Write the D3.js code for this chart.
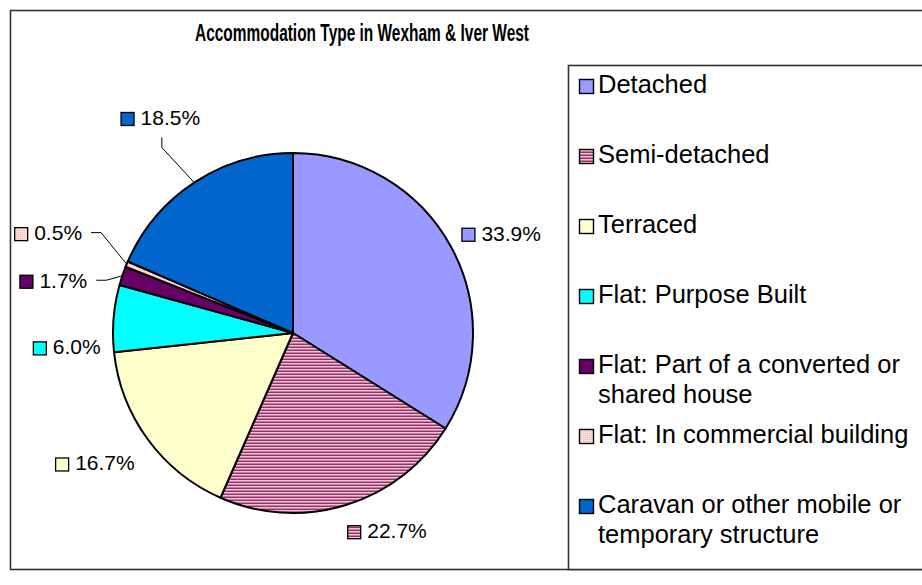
<!DOCTYPE html>
<html>
<head>
<meta charset="utf-8">
<script src="https://cdn.jsdelivr.net/npm/d3@7"></script>
<style>
  body { margin: 0; background: #fff; }
  svg { display: block; }
  text { font-family: Arial, "Liberation Sans", sans-serif; fill: #000; }
  text.title { font-family: "Liberation Sans Narrow", "Arial Narrow", Arial, sans-serif; }
</style>
</head>
<body>
<svg id="chart"></svg>
<script>
// ************************************************************************************************** //
// Data

var title = "Accommodation Type in Wexham & Iver West";
var categories = ["Detached", "Semi-detached", "Terraced", "Flat: Purpose Built",
  "Flat: Part of a converted or shared house", "Flat: In commercial building",
  "Caravan or other mobile or temporary structure"];
var legendLines = [["Detached"], ["Semi-detached"], ["Terraced"], ["Flat: Purpose Built"],
  ["Flat: Part of a converted or", "shared house"], ["Flat: In commercial building"],
  ["Caravan or other mobile or", "temporary structure"]];
var values = [33.9, 22.7, 16.7, 6.0, 1.7, 0.5, 18.5];

// ************************************************************************************************** //
// Layout / style

var W = 922, H = 585;
var cx = 293, cy = 333, radius = 180;
var fills = ["#9999FF", "url(#pat-semi)", "#FFFFCC", "#00FFFF", "#660066", "url(#pat-comm)", "#0066CC"];
// label box centres sit on an ellipse round the pie, with Excel's hand nudges on top
var labelRx = 238, labelRy = 210;
var labelNudge = [[0, 2], [24, -3], [-6, 6], [11, 31], [-14, 14], [-25, -20], [-2, -40]];
var hasLeader = [false, false, false, false, true, true, true];

var svg = d3.select('#chart').attr('width', W).attr('height', H);
var defs = svg.append('defs');

// narrow horizontal stripes for semi-detached
var p1 = defs.append('pattern').attr('id', 'pat-semi').attr('patternUnits', 'userSpaceOnUse').attr('width', 4).attr('height', 3);
p1.append('rect').attr('width', 4).attr('height', 3).attr('fill', '#F0C2D8');
p1.append('rect').attr('y', 1).attr('width', 4).attr('height', 1).attr('fill', '#C97AA2');
p1.append('rect').attr('y', 2).attr('width', 4).attr('height', 1).attr('fill', '#8E3664');

// fine dots for commercial building
var p2 = defs.append('pattern').attr('id', 'pat-comm').attr('patternUnits', 'userSpaceOnUse').attr('width', 2).attr('height', 2);
p2.append('rect').attr('width', 2).attr('height', 2).attr('fill', '#FFCCCC');
p2.append('rect').attr('width', 1).attr('height', 1).attr('fill', '#FFF0F0');

// ****************************************
// Frame + title

svg.append('rect').attr('x', 10.5).attr('y', 10.5).attr('width', 960).attr('height', 559)
  .attr('fill', '#fff').attr('stroke', '#333').attr('stroke-width', 1.6);

svg.append('text').attr('class', 'title').attr('x', 362).attr('y', 41).attr('text-anchor', 'middle')
  .attr('textLength', 334).attr('lengthAdjust', 'spacingAndGlyphs')
  .style('font-size', '23px').style('font-weight', 'bold').text(title);

// ****************************************
// Pie

var pie = d3.pie().sort(null).value(d => d);
var arcs = pie(values);
var arc = d3.arc().innerRadius(0).outerRadius(radius);

var g = svg.append('g').attr('transform', 'translate(' + cx + ',' + cy + ')');
g.selectAll('path.slice').data(arcs).enter().append('path')
  .attr('class', 'slice')
  .attr('d', arc)
  .attr('fill', (d, i) => fills[i])
  .attr('stroke', '#000').attr('stroke-width', 2).attr('stroke-linejoin', 'round');

// ****************************************
// Data labels

var fmt = d3.format('.1f');
arcs.forEach((d, i) => {
  var a = (d.startAngle + d.endAngle) / 2;
  var s = Math.sin(a), c = -Math.cos(a);
  var bx = labelRx * s + labelNudge[i][0];
  var by = labelRy * c + labelNudge[i][1];

  var lg = g.append('g');
  var t = lg.append('text').style('font-size', '21px').text(fmt(d.data) + '%');
  var tw = t.node().getComputedTextLength();
  var bw = 14 + 6 + tw;
  var left = bx - bw / 2;
  var base = by + 7.5;
  lg.append('rect').attr('x', left + 0.5).attr('y', base - 12.5).attr('width', 13).attr('height', 13)
    .attr('fill', fills[i]).attr('stroke', '#000').attr('stroke-width', 1.3);
  t.attr('x', left + 20).attr('y', base);

  if (hasLeader[i]) {
    var ex = radius * s, ey = radius * c;
    var pts;
    if (Math.abs(ey - by) > Math.abs(ex - bx)) {
      var y0 = by + 20;
      pts = [[bx + 1.5, y0], [bx + 1.5, y0 + 10], [ex, ey]];
    } else {
      var x0 = bx + bw / 2 + 9;
      pts = [[x0, by], [x0 + 10, by], [ex, ey]];
    }
    g.append('path').attr('d', d3.line()(pts)).attr('fill', 'none').attr('stroke', '#000').attr('stroke-width', 1);
  }
});

// ****************************************
// Legend

svg.append('rect').attr('x', 568.5).attr('y', 65.5).attr('width', 400).attr('height', 504)
  .attr('fill', '#fff').attr('stroke', '#333').attr('stroke-width', 1.6);

var ly = d3.scaleLinear().domain([0, categories.length - 1]).range([93, 513]);
var leg = svg.append('g');
categories.forEach((cat, i) => {
  var y = ly(i);
  leg.append('rect').attr('x', 579.5).attr('y', y - 13.5).attr('width', 14).attr('height', 14)
    .attr('fill', fills[i]).attr('stroke', '#000').attr('stroke-width', 1.4);
  var t = leg.append('text').attr('x', 598).attr('y', y).style('font-size', '25.5px');
  legendLines[i].forEach((line, k) => {
    t.append('tspan').attr('x', 598).attr('dy', k === 0 ? 0 : 30).text(line);
  });
});
</script>
</body>
</html>
